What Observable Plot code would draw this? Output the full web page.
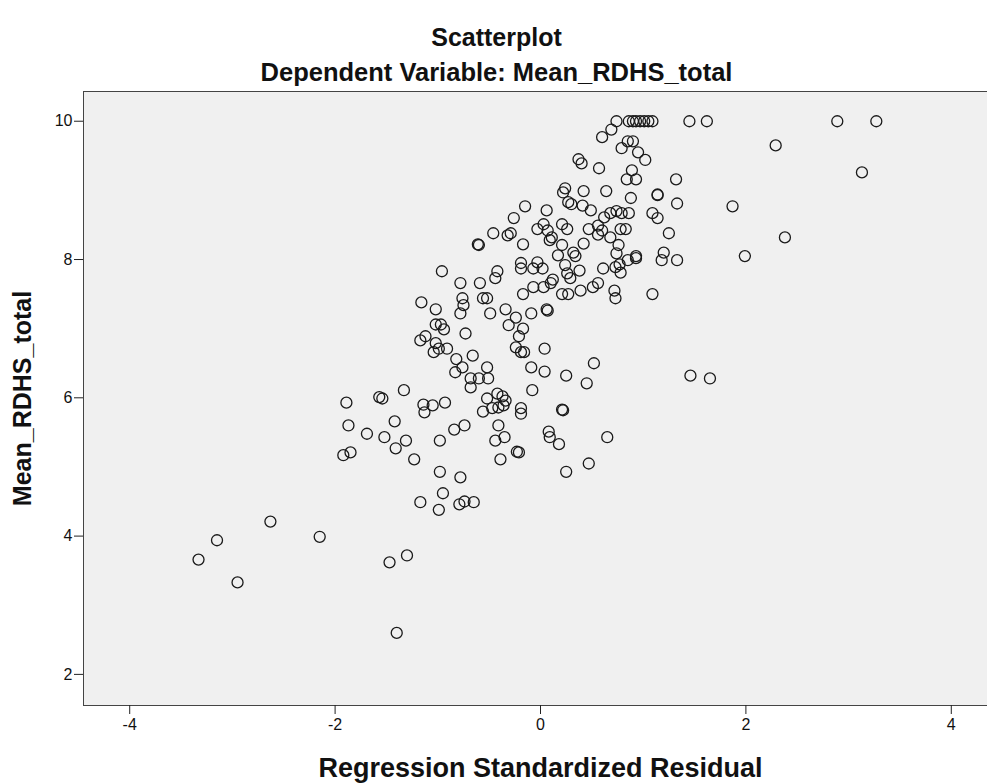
<!DOCTYPE html>
<html>
<head>
<meta charset="utf-8">
<script src="https://cdn.jsdelivr.net/npm/d3@7"></script>
<script src="https://cdn.jsdelivr.net/npm/@observablehq/plot@0.6"></script>
<style>
  html, body { margin: 0; padding: 0; background: #ffffff; }
  #wrap { position: relative; width: 987px; height: 783px; overflow: hidden; font-family: "Liberation Sans", Arial, sans-serif; }
  .title { position: absolute; left: 0; width: 987px; text-align: center; font-weight: bold; font-size: 25px; color: #111; line-height: 1; }
  #chart { position: absolute; left: 0; top: 0; }
</style>
</head>
<body>
<div id="wrap">
  <div id="chart"></div>
  <div class="title" id="t1" style="top:25px; left:3px;">Scatterplot</div>
  <div class="title" id="t2" style="top:60px; left:3px; font-size:25.5px;">Dependent Variable: Mean_RDHS_total</div>
</div>
<script>
// Regression standardized residual (x) and Mean_RDHS_total (y)
const residual = [0.74,0.86,0.90,0.93,0.97,1.01,1.05,1.09,1.45,1.62,2.89,3.27,
0.69,0.60,0.85,0.90,0.79,0.95,1.02,0.37,0.40,0.57,0.89,0.84,0.93,1.32,2.29,3.13,
1.14,1.14,1.33,0.88,0.64,0.42,0.22,0.24,0.27,0.30,0.06,-0.15,-0.26,0.41,0.49,0.62,0.68,0.74,0.79,0.86,1.09,1.14,1.87,
-0.03,0.03,0.07,0.21,0.26,0.47,0.56,0.60,0.78,0.83,1.25,2.38,
0.09,0.11,0.21,0.42,0.68,0.76,0.74,0.32,0.34,0.17,0.93,0.85,1.20,1.18,1.33,1.99,
-0.46,-0.32,-0.29,-0.61,-0.60,-0.17,0.56,
-0.19,-0.19,-0.07,-0.03,0.02,0.24,0.26,0.38,0.29,0.61,0.73,0.78,0.77,0.93,
-0.96,-0.78,-0.59,-0.44,-0.42,
-0.07,0.03,0.10,0.12,0.21,0.27,0.39,0.51,0.56,0.72,0.73,1.09,-0.17,
-1.16,-1.02,-0.76,-0.75,-0.78,-0.56,-0.52,-0.49,-0.34,-0.24,-0.31,-0.09,0.06,0.07,
-1.02,-0.97,-0.94,-0.73,-1.17,-1.12,-1.02,-1.04,-0.99,-0.91,-0.21,-0.17,-0.24,-0.19,-0.16,0.04,
-0.66,-0.82,-0.76,-0.83,-0.52,-0.68,-0.60,-0.51,-0.68,-0.09,0.04,0.25,0.52,0.45,
-1.33,-1.54,-1.14,-1.05,-1.13,-0.93,-0.52,-0.42,-0.37,-0.34,-0.36,-0.41,-0.08,-0.19,-0.19,-0.56,-0.47,0.21,0.22,
-1.42,-1.52,-1.31,-1.41,-1.23,-0.98,-0.84,-0.74,-0.41,-0.44,-0.35,-0.23,-0.21,-0.39,0.08,0.09,0.18,0.65,
-0.98,-0.78,0.25,0.47,-1.17,-0.95,-0.99,-0.79,-0.74,-0.65,-1.30,-1.47,
-1.89,-1.57,-1.87,-1.69,-1.92,-1.85,-2.63,-3.15,-3.33,-2.95,-2.15,-1.40,1.46,1.65];

const rdhs = [10,10,10,10,10,10,10,10,10,10,10,10,
9.88,9.77,9.71,9.71,9.61,9.55,9.44,9.45,9.39,9.32,9.29,9.16,9.16,9.16,9.65,9.26,
8.94,8.93,8.81,8.89,8.99,8.99,8.97,9.03,8.83,8.80,8.71,8.77,8.60,8.78,8.71,8.61,8.67,8.70,8.67,8.67,8.67,8.60,8.77,
8.44,8.51,8.42,8.51,8.44,8.44,8.49,8.42,8.44,8.44,8.38,8.32,
8.28,8.32,8.21,8.23,8.32,8.21,8.09,8.10,8.05,8.06,8.05,7.99,8.10,7.99,7.99,8.05,
8.38,8.35,8.38,8.22,8.21,8.22,8.36,
7.95,7.87,7.87,7.96,7.87,7.92,7.80,7.84,7.73,7.87,7.89,7.81,7.93,8.02,
7.83,7.66,7.66,7.73,7.83,
7.60,7.60,7.66,7.71,7.50,7.50,7.55,7.60,7.66,7.55,7.44,7.50,7.50,
7.38,7.28,7.44,7.34,7.22,7.44,7.44,7.22,7.28,7.16,7.05,7.22,7.28,7.26,
7.06,7.06,6.99,6.93,6.83,6.89,6.79,6.66,6.71,6.71,6.89,7.00,6.73,6.66,6.66,6.71,
6.61,6.56,6.44,6.37,6.44,6.28,6.28,6.28,6.15,6.44,6.38,6.32,6.50,6.21,
6.11,5.99,5.90,5.89,5.79,5.93,5.99,6.06,6.02,5.96,5.89,5.86,6.11,5.85,5.77,5.80,5.85,5.83,5.82,
5.66,5.43,5.38,5.27,5.11,5.38,5.54,5.60,5.60,5.38,5.43,5.22,5.21,5.11,5.51,5.43,5.33,5.43,
4.93,4.85,4.93,5.05,4.49,4.62,4.38,4.46,4.50,4.49,3.72,3.62,
5.93,6.01,5.60,5.48,5.17,5.21,4.21,3.94,3.66,3.33,3.99,2.60,6.32,6.28];

const xTicks = [-4, -2, 0, 2, 4];
const yTicks = [2, 4, 6, 8, 10];
const xTitle = "Regression Standardized Residual";
const yTitle = "Mean_RDHS_total";

const n = Math.min(residual.length, rdhs.length);
const points = d3.range(n).map(i => ({residual: residual[i], rdhs: rdhs[i]}));

const chart = Plot.plot({
  width: 987,
  height: 783,
  marginLeft: 83,
  marginRight: -10,
  marginTop: 91,
  marginBottom: 78,
  style: {fontFamily: "'Liberation Sans', Arial, sans-serif", background: "transparent", color: "#111", overflow: "hidden"},
  x: {domain: [-4.45, 4.45]},
  y: {domain: [1.55, 10.43]},
  marks: [
    Plot.frame({fill: "#f0f0f0", stroke: "#444", strokeWidth: 1}),
    Plot.axisX({ticks: xTicks, tickSize: 9, tickPadding: 4, fontSize: 16, label: null, tickFormat: d => String(d), stroke: "#222"}),
    Plot.axisY({ticks: yTicks, tickSize: 9, tickPadding: 2, fontSize: 16, label: null, tickFormat: d => String(d), stroke: "#222"}),
    Plot.dot(points, {x: "residual", y: "rdhs", r: 5.5, stroke: "#1a1a1a", strokeWidth: 1.3, fill: "none"}),
    Plot.text([xTitle], {frameAnchor: "bottom", dy: 63, fontSize: 27, fontWeight: "bold", textAnchor: "middle", lineAnchor: "middle", fill: "#111"}),
    Plot.text([yTitle], {frameAnchor: "left", dx: -61, rotate: -90, fontSize: 25, fontWeight: "bold", textAnchor: "middle", lineAnchor: "middle", fill: "#111"})
  ]
});
document.getElementById("chart").appendChild(chart);
</script>
</body>
</html>
